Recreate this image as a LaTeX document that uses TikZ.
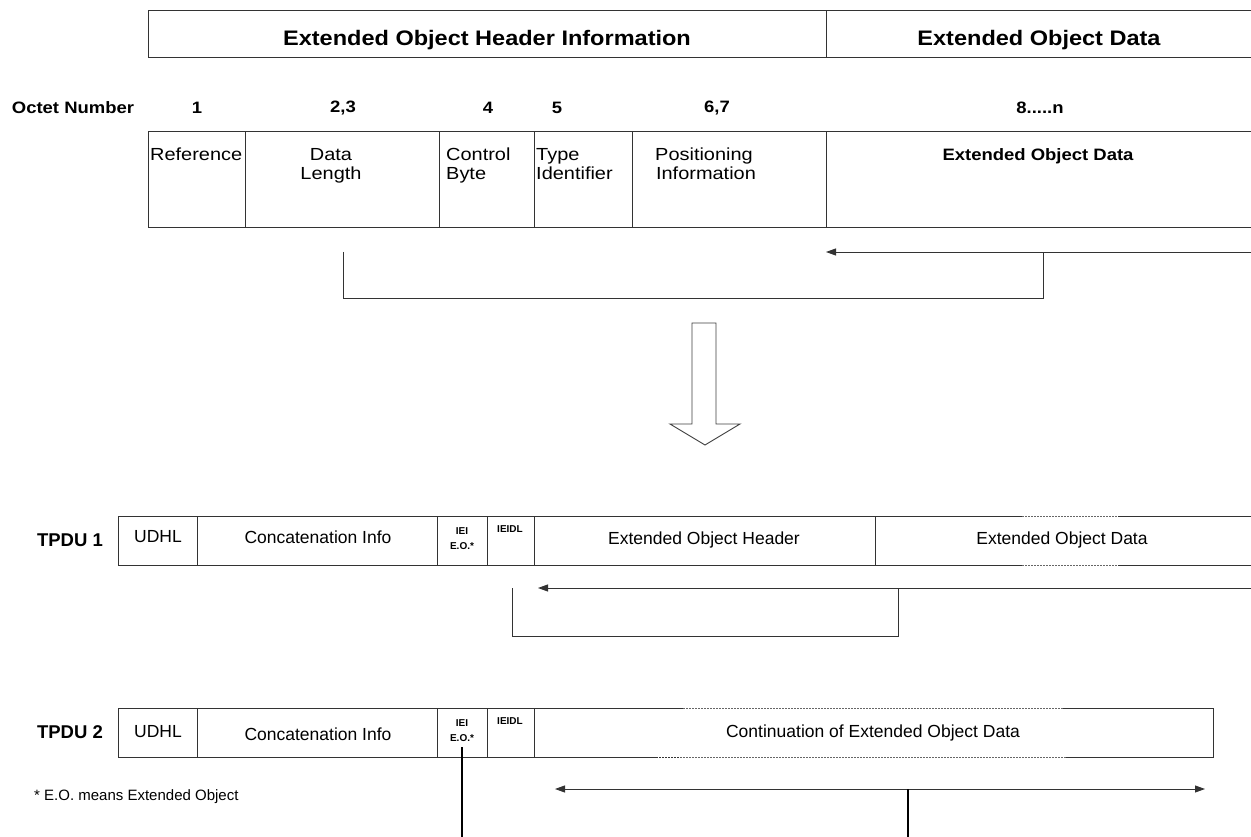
\documentclass[tikz,border=0pt]{standalone}
\usepackage{fontspec}
\setmainfont{Liberation Sans}
\newfontfamily\widefont{Liberation Sans}[FakeStretch=1.14]
\newfontfamily\hdrfont{Liberation Sans}[FakeStretch=1.12]
\usetikzlibrary{arrows.meta}
\begin{document}
\begin{tikzpicture}[x=1pt,y=-1pt,
  ln/.style={line width=0.9pt, draw=black!80},
  cell/.style={ln, rectangle, inner sep=0pt, outer sep=0pt, anchor=north west},
  hdr/.style={font=\hdrfont\fontsize{21}{24}\selectfont\bfseries},
  oct/.style={font=\hdrfont\fontsize{16.5}{18}\selectfont\bfseries},
  tbl/.style={font=\widefont\fontsize{17.5}{19}\selectfont, inner sep=0pt},
  tblb/.style={font=\hdrfont\fontsize{16.5}{19}\selectfont\bfseries, inner sep=0pt},
  tp/.style={font=\fontsize{17.5}{20}\selectfont, inner sep=0pt},
  tpb/.style={font=\fontsize{18.5}{20}\selectfont\bfseries, inner sep=0pt},
  fnote/.style={font=\fontsize{15}{18}\selectfont, inner sep=0pt},
  small/.style={font=\fontsize{10}{15}\selectfont\bfseries, inner sep=0pt, align=center},
  arr/.style={ln, -{Triangle[length=10pt,width=7pt]}},
  darr/.style={ln, {Triangle[length=10pt,width=7pt]}-{Triangle[length=10pt,width=7pt]}},
  thick line/.style={line width=1.8pt, draw=black},
  dots/.style={line width=0.9pt, draw=black!60, dash pattern=on 1.5pt off 1.5pt},
]
\useasboundingbox (0,0) rectangle (1251,837);
\fill[white] (0,0) rectangle (1251,837);

% top header box
\node[cell, minimum width=678pt, minimum height=47pt] (hinfo) at (148,10) {};
\node[cell, minimum width=432pt, minimum height=47pt] (hdata) at (826,10) {};
\node[hdr] (thinfo) at (487,40) {Extended Object Header Information};
\node[hdr] (thdata) at (1039,40) {Extended Object Data};

% octet numbers
\node[oct] (octl) at (73,108) {Octet Number};
\node[oct] (o1) at (197,108) {1};
\node[oct] (o23) at (343,108) {2,3};
\node[oct] (o4) at (488,108) {4};
\node[oct] (o5) at (557,108) {5};
\node[oct] (o67) at (717,108) {6,7};
\node[oct] (o8n) at (1040,108) {8.....n};

% table
\node[cell, minimum width=97pt, minimum height=96pt] (cref) at (148,131) {};
\node[cell, minimum width=194pt, minimum height=96pt] (cdl) at (245,131) {};
\node[cell, minimum width=95pt, minimum height=96pt] (cctl) at (439,131) {};
\node[cell, minimum width=98pt, minimum height=96pt] (ctype) at (534,131) {};
\node[cell, minimum width=194pt, minimum height=96pt] (cpos) at (632,131) {};
\node[cell, minimum width=432pt, minimum height=96pt] (ceod) at (826,131) {};

\node[tbl, anchor=north west] (tref) at (150,148) {Reference};
\node[tbl, anchor=north, align=center] (tdl) at (331,148) {Data\\Length};
\node[tbl, anchor=north west, align=left] (tctl) at (446,148) {Control\\Byte};
\node[tbl, anchor=north west, align=left] (ttype) at (536,148) {Type\\Identifier};
\node[tbl, anchor=north, align=center] (tpos) at (704,148) {Positioning\\\hspace*{4pt}Information};
\node[tblb, anchor=north] (teod) at (1038,148) {Extended Object Data};

% arrow 1 with bracket
\coordinate (a1s) at (1256,252);
\coordinate (a1e) at (826,252);
\coordinate (b1a) at (343,252);
\coordinate (b1b) at (343,298);
\coordinate (b1c) at (1043,298);
\coordinate (b1d) at (1043,252);
\draw[arr] (a1s) -- (a1e);
\draw[ln] (b1a) -- (b1b) -- (b1c) -- (b1d);

% block arrow
\draw[line width=0.9pt, draw=black!75, fill=white]
  (692,323) -- (716,323) -- (716,424) -- (740,424) -- (705,445) -- (670,424) -- (692,424) -- cycle;

% TPDU 1
\node[tpb] (lt1) at (70,540) {TPDU 1};
\node[cell, minimum width=79pt, minimum height=49pt] (u1) at (118,516) {};
\node[cell, minimum width=240pt, minimum height=49pt] (c1) at (197,516) {};
\node[cell, minimum width=50pt, minimum height=49pt] (i1) at (437,516) {};
\node[cell, minimum width=47pt, minimum height=49pt] (l1) at (487,516) {};
\node[cell, minimum width=341pt, minimum height=49pt] (h1) at (534,516) {};
\node[cell, minimum width=383pt, minimum height=49pt] (d1) at (875,516) {};
\draw[white, line width=1.5pt] (1022,516) -- (1118,516) (1022,565) -- (1118,565);
\draw[dots] (1022,516) -- (1118,516) (1022,565) -- (1118,565);

\node[tp] (tu1) at (158,537) {UDHL};
\node[tp] (tc1) at (318,537) {Concatenation Info};
\node[small] (ti1) at (462,539) {IEI\\E.O.*};
\node[small] (tl1) at (510,529) {IEIDL};
\node[tp] (th1) at (704,540) {Extended Object Header};
\node[tp] (td1) at (1062,540) {Extended Object Data};

% arrow 2 with bracket
\coordinate (a2s) at (1256,588);
\coordinate (a2e) at (538,588);
\coordinate (b2a) at (512,588);
\coordinate (b2b) at (512,636);
\coordinate (b2c) at (898,636);
\coordinate (b2d) at (898,588);
\draw[arr] (a2s) -- (a2e);
\draw[ln] (b2a) -- (b2b) -- (b2c) -- (b2d);

% TPDU 2
\node[tpb] (lt2) at (70,732) {TPDU 2};
\node[cell, minimum width=79pt, minimum height=49pt] (u2) at (118,708) {};
\node[cell, minimum width=240pt, minimum height=49pt] (c2) at (197,708) {};
\node[cell, minimum width=50pt, minimum height=49pt] (i2) at (437,708) {};
\node[cell, minimum width=47pt, minimum height=49pt] (l2) at (487,708) {};
\node[cell, minimum width=679pt, minimum height=49pt] (ct2) at (534,708) {};
\draw[white, line width=1.5pt] (683,708) -- (1063,708) (656,757) -- (1066,757);
\draw[dots] (683,708) -- (1063,708) (680,757) -- (1066,757);
\draw[ln, dash pattern=on 2pt off 1pt] (656,757) -- (680,757);

\node[tp] (tu2) at (158,732) {UDHL};
\node[tp] (tc2) at (318,734) {Concatenation Info};
\node[small] (ti2) at (462,731) {IEI\\E.O.*};
\node[small] (tl2) at (510,721) {IEIDL};
\node[tp] (tct2) at (873,733) {Continuation of Extended Object Data};

% arrow 3
\coordinate (a3l) at (555,789);
\coordinate (a3r) at (1205,789);
\coordinate (a3m) at (908,789);
\coordinate (a3b) at (908,840);
\draw[darr] (a3l) -- (a3r);
\draw[thick line] (a3m) -- (a3b);
\coordinate (ieit) at (462,747);
\coordinate (ieib) at (462,840);
\draw[thick line] (ieit) -- (ieib);

% footnote
\node[fnote, anchor=west] (fn) at (34,797) {* E.O. means Extended Object};
\end{tikzpicture}
\end{document}
